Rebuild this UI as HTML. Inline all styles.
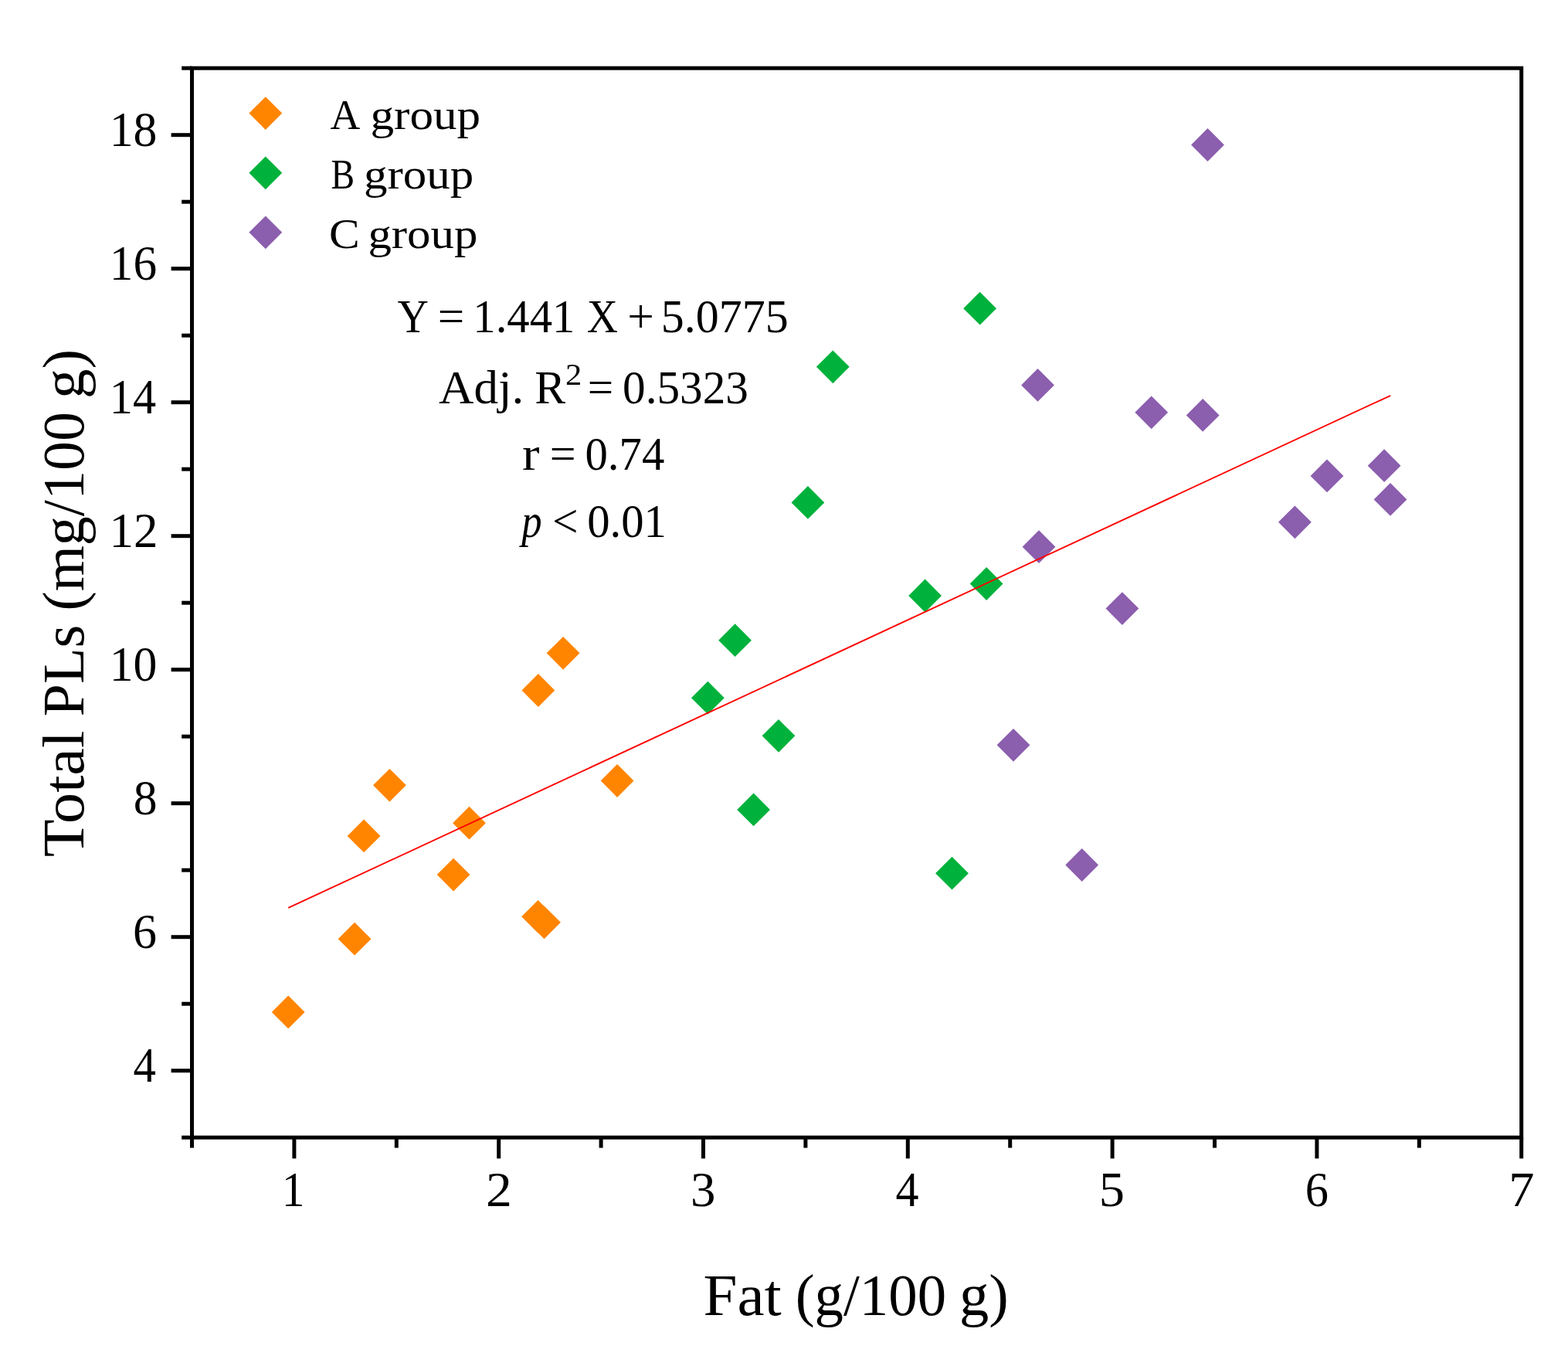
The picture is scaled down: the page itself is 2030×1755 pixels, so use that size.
<!DOCTYPE html>
<html><head><meta charset="utf-8"><title>Total PLs vs Fat</title>
<style>
html,body{margin:0;padding:0;background:#fff;}
svg{display:block;}
text{font-family:"Liberation Serif", "Times New Roman", serif;fill:#000;}
</style></head>
<body>
<svg width="2030" height="1755" viewBox="0 0 2030 1755">
<rect width="2030" height="1755" fill="#fff"/>
<g stroke="#000" stroke-width="5" stroke-linecap="butt">
<rect x="248.50" y="88.20" width="1721.20" height="1384.00" fill="none" stroke="#000" stroke-width="5" stroke-linejoin="miter"/>
<line x1="235.20" y1="1472.20" x2="248.50" y2="1472.20"/>
<line x1="221.60" y1="1385.70" x2="248.50" y2="1385.70"/>
<line x1="235.20" y1="1299.20" x2="248.50" y2="1299.20"/>
<line x1="221.60" y1="1212.70" x2="248.50" y2="1212.70"/>
<line x1="235.20" y1="1126.20" x2="248.50" y2="1126.20"/>
<line x1="221.60" y1="1039.70" x2="248.50" y2="1039.70"/>
<line x1="235.20" y1="953.20" x2="248.50" y2="953.20"/>
<line x1="221.60" y1="866.70" x2="248.50" y2="866.70"/>
<line x1="235.20" y1="780.20" x2="248.50" y2="780.20"/>
<line x1="221.60" y1="693.70" x2="248.50" y2="693.70"/>
<line x1="235.20" y1="607.20" x2="248.50" y2="607.20"/>
<line x1="221.60" y1="520.70" x2="248.50" y2="520.70"/>
<line x1="235.20" y1="434.20" x2="248.50" y2="434.20"/>
<line x1="221.60" y1="347.70" x2="248.50" y2="347.70"/>
<line x1="235.20" y1="261.20" x2="248.50" y2="261.20"/>
<line x1="221.60" y1="174.70" x2="248.50" y2="174.70"/>
<line x1="235.20" y1="88.20" x2="248.50" y2="88.20"/>
<line x1="248.50" y1="1472.20" x2="248.50" y2="1485.60"/>
<line x1="380.90" y1="1472.20" x2="380.90" y2="1499.40"/>
<line x1="513.30" y1="1472.20" x2="513.30" y2="1485.60"/>
<line x1="645.70" y1="1472.20" x2="645.70" y2="1499.40"/>
<line x1="778.10" y1="1472.20" x2="778.10" y2="1485.60"/>
<line x1="910.50" y1="1472.20" x2="910.50" y2="1499.40"/>
<line x1="1042.90" y1="1472.20" x2="1042.90" y2="1485.60"/>
<line x1="1175.30" y1="1472.20" x2="1175.30" y2="1499.40"/>
<line x1="1307.70" y1="1472.20" x2="1307.70" y2="1485.60"/>
<line x1="1440.10" y1="1472.20" x2="1440.10" y2="1499.40"/>
<line x1="1572.50" y1="1472.20" x2="1572.50" y2="1485.60"/>
<line x1="1704.90" y1="1472.20" x2="1704.90" y2="1499.40"/>
<line x1="1837.30" y1="1472.20" x2="1837.30" y2="1485.60"/>
<line x1="1969.70" y1="1472.20" x2="1969.70" y2="1499.40"/>
</g>
<g>
<path fill="#FF8500" d="M373.2 1288.5L394.6 1309.9L373.2 1331.3L351.8 1309.9ZM459.1 1193.8L480.5 1215.2L459.1 1236.6L437.7 1215.2ZM471.1 1060.5L492.5 1081.9L471.1 1103.3L449.7 1081.9ZM504.4 994.9L525.8 1016.3L504.4 1037.7L483.0 1016.3ZM587.1 1110.7L608.5 1132.1L587.1 1153.5L565.7 1132.1ZM607.5 1043.8L628.9 1065.2L607.5 1086.6L586.1 1065.2ZM696.9 872.1L718.3 893.5L696.9 914.9L675.5 893.5ZM729.1 823.9L750.5 845.3L729.1 866.7L707.7 845.3ZM696.6 1164.9L718.0 1186.3L696.6 1207.7L675.2 1186.3ZM704.5 1172.4L725.9 1193.8L704.5 1215.2L683.1 1193.8ZM799.1 989.1L820.5 1010.5L799.1 1031.9L777.7 1010.5Z"/>
<path fill="#00B23C" d="M916.4 881.8L937.8 903.2L916.4 924.6L895.0 903.2ZM951.6 807.3L973.0 828.7L951.6 850.1L930.2 828.7ZM975.6 1026.5L997.0 1047.9L975.6 1069.3L954.2 1047.9ZM1008.0 930.9L1029.4 952.3L1008.0 973.7L986.6 952.3ZM1045.9 629.0L1067.3 650.4L1045.9 671.8L1024.5 650.4ZM1078.3 453.4L1099.7 474.8L1078.3 496.2L1056.9 474.8ZM1197.6 749.6L1219.0 771.0L1197.6 792.4L1176.2 771.0ZM1232.5 1108.8L1253.9 1130.2L1232.5 1151.6L1211.1 1130.2ZM1268.6 377.8L1290.0 399.2L1268.6 420.6L1247.2 399.2ZM1277.1 734.1L1298.5 755.5L1277.1 776.9L1255.7 755.5Z"/>
<path fill="#8B5EAE" d="M1312.0 942.9L1333.4 964.3L1312.0 985.7L1290.6 964.3ZM1343.5 477.0L1364.9 498.4L1343.5 519.8L1322.1 498.4ZM1345.0 686.3L1366.4 707.7L1345.0 729.1L1323.6 707.7ZM1400.7 1098.1L1422.1 1119.5L1400.7 1140.9L1379.3 1119.5ZM1452.9 766.2L1474.3 787.6L1452.9 809.0L1431.5 787.6ZM1490.7 512.4L1512.1 533.8L1490.7 555.2L1469.3 533.8ZM1557.2 516.0L1578.6 537.4L1557.2 558.8L1535.8 537.4ZM1563.5 166.1L1584.9 187.5L1563.5 208.9L1542.1 187.5ZM1676.4 654.4L1697.8 675.8L1676.4 697.2L1655.0 675.8ZM1718.0 594.5L1739.4 615.9L1718.0 637.3L1696.6 615.9ZM1792.1 581.3L1813.5 602.7L1792.1 624.1L1770.7 602.7ZM1800.0 625.0L1821.4 646.4L1800.0 667.8L1778.6 646.4Z"/>
</g>
<line x1="374" y1="1174.7" x2="1799.4" y2="512.3" stroke="#FF0000" stroke-width="1.9" stroke-linecap="round"/>
<g>
<path fill="#FF8500" d="M343.8 125.2L365.2 146.6L343.8 168.0L322.4 146.6Z"/>
<path fill="#00B23C" d="M343.8 202.4L365.2 223.8L343.8 245.2L322.4 223.8Z"/>
<path fill="#8B5EAE" d="M343.8 279.4L365.2 300.8L343.8 322.2L322.4 300.8Z"/>
</g>
<g>
<text transform="translate(172.62 1399.80) scale(0.9428 1)" font-size="62.5">4</text>
<text transform="translate(172.07 1226.80) scale(0.9918 1)" font-size="62.5">6</text>
<text transform="translate(172.69 1053.80) scale(0.9864 1)" font-size="62.5">8</text>
<text transform="translate(141.69 880.80) scale(0.9893 1)" font-size="62.5">10</text>
<text transform="translate(141.58 707.80) scale(1.0094 1)" font-size="62.5">12</text>
<text transform="translate(141.83 534.80) scale(0.9645 1)" font-size="62.5">14</text>
<text transform="translate(141.74 361.80) scale(0.9808 1)" font-size="62.5">16</text>
<text transform="translate(141.69 188.80) scale(0.9893 1)" font-size="62.5">18</text>
<text transform="translate(364.76 1560.80) scale(0.9487 1)" font-size="62.5">1</text>
<text transform="translate(629.10 1560.80) scale(1.0840 1)" font-size="62.5">2</text>
<text transform="translate(894.01 1560.80) scale(1.0395 1)" font-size="62.5">3</text>
<text transform="translate(1159.55 1560.80) scale(0.9600 1)" font-size="62.5">4</text>
<text transform="translate(1422.87 1560.80) scale(1.0653 1)" font-size="62.5">5</text>
<text transform="translate(1689.74 1560.80) scale(0.9656 1)" font-size="62.5">6</text>
<text transform="translate(1953.33 1560.80) scale(1.0627 1)" font-size="62.5">7</text>
<text transform="translate(427.56 166.50) scale(0.9721 1)" font-size="55.3">A</text>
<text transform="translate(479.50 166.50) scale(1.1325 1)" font-size="54">group</text>
<text transform="translate(428.43 244.10) scale(0.8280 1)" font-size="55.3">B</text>
<text transform="translate(471.01 244.10) scale(1.1300 1)" font-size="54">group</text>
<text transform="translate(426.12 321.00) scale(1.0771 1)" font-size="55.3">C</text>
<text transform="translate(476.41 321.00) scale(1.1276 1)" font-size="54">group</text>
<text transform="translate(514.60 429.70) scale(0.9018 1)" font-size="62">Y</text>
<text transform="translate(566.65 429.70) scale(0.9851 1)" font-size="62">=</text>
<text transform="translate(612.37 429.70) scale(0.9459 1)" font-size="62">1.441</text>
<text transform="translate(759.75 429.70) scale(0.8980 1)" font-size="62">X</text>
<text transform="translate(812.24 429.70) scale(0.9886 1)" font-size="62">+</text>
<text transform="translate(855.85 429.70) scale(0.9668 1)" font-size="62">5.0775</text>
<text transform="translate(568.07 521.60) scale(1.0159 1)" font-size="62">Adj.</text>
<text transform="translate(692.30 521.60) scale(0.9652 1)" font-size="62">R</text>
<text transform="translate(731.89 498.00) scale(1.0625 1)" font-size="40">2</text>
<text transform="translate(760.84 521.60) scale(0.9539 1)" font-size="62">=</text>
<text transform="translate(806.08 521.60) scale(0.9554 1)" font-size="62">0.5323</text>
<text transform="translate(675.95 608.30) scale(1.0894 1)" font-size="62">r</text>
<text transform="translate(711.70 608.30) scale(0.9677 1)" font-size="62">=</text>
<text transform="translate(757.50 608.30) scale(0.9473 1)" font-size="62">0.74</text>
<text transform="translate(675.13 694.70) scale(0.8500 1)" font-size="62" font-style="italic">p</text>
<text transform="translate(715.03 694.70) scale(0.9573 1)" font-size="62">&lt;</text>
<text transform="translate(760.20 694.70) scale(0.9468 1)" font-size="62">0.01</text>
<text transform="translate(910.53 1702.40) scale(1.0410 1)" font-size="76">Fat</text>
<text transform="translate(1029.63 1702.40) scale(0.9850 1)" font-size="76">(g/100</text>
<text transform="translate(1242.04 1702.40) scale(1.0086 1)" font-size="76">g)</text>
<text transform="translate(108.00 1109.20) rotate(-90) scale(1.0533 1)" font-size="76">Total</text>
<text transform="translate(108.00 927.49) rotate(-90) scale(1.0041 1)" font-size="76">PLs</text>
<text transform="translate(108.00 790.62) rotate(-90) scale(1.0005 1)" font-size="76">(mg/100</text>
<text transform="translate(108.00 515.98) rotate(-90) scale(1.0157 1)" font-size="76">g)</text>
</g>
</svg>
</body></html>
